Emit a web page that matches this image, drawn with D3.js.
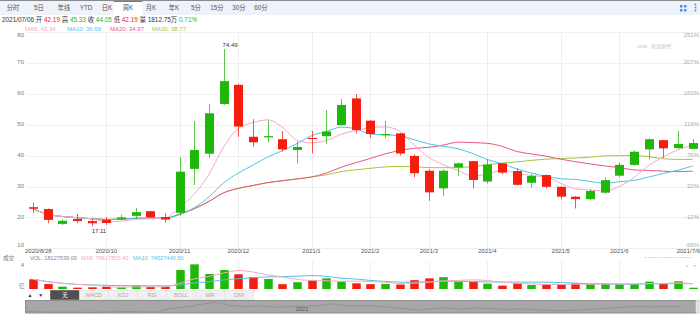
<!DOCTYPE html>
<html><head><meta charset="utf-8">
<script src="https://cdn.jsdelivr.net/npm/d3@7"></script>
<style>
body{margin:0;background:#fff}
svg{display:block}
text{font-family:"Liberation Sans","Noto Sans CJK SC",sans-serif}
</style>
</head><body>
<svg id="chart" width="700" height="322"></svg>
<script>
// Weekly K-line, 2020/8/28 – 2021/7/6
const opens  = [23.3,22.7,17.9,19.5,18.8,19.2,19.4,20.5,22.0,20.1,
                21.5,35.7,40.6,56.7,62.9,46.1,45.9,45.3,41.8,45.7,
                46.3,49.9,58.5,51.3,46.6,47.2,39.9,35.1,29.4,36.2,
                38.2,31.6,37.5,35.0,31.2,33.7,29.9,26.7,25.9,28.0,
                33.5,37.0,42.0,45.0,42.4,42.19];
const highs  = [24.8,22.9,19.4,21.1,19.6,20.1,20.9,23.0,22.1,21.3,
                39.4,51.2,56.7,74.49,63.2,51.8,51.3,48.0,44.5,48.0,
                54.8,58.3,59.9,51.4,51.2,47.3,40.4,35.6,35.5,37.7,
                38.3,38.9,37.6,35.9,34.0,33.9,30.0,26.9,29.1,33.0,
                37.8,41.7,45.6,45.1,48.0,45.33];
const lows   = [21.4,18.1,17.5,18.1,17.11,17.6,19.1,19.6,19.9,18.3,
                20.5,30.5,39.1,56.4,46.1,42.9,44.3,41.3,37.5,40.7,
                43.7,49.7,47.2,45.8,45.6,40.0,33.0,25.4,26.9,33.5,
                29.4,31.0,34.0,30.3,29.7,29.4,25.9,22.9,25.4,27.6,
                33.0,36.8,38.8,39.3,42.2,42.19];
const closes = [22.79,19.2,18.9,18.8,18.1,18.2,20.0,21.7,20.0,19.3,
                34.8,41.8,53.7,64.1,49.4,44.3,46.3,42.0,42.8,45.4,
                47.8,56.4,48.3,47.0,47.0,40.7,34.3,28.1,35.1,37.5,
                32.1,37.1,34.5,30.55,33.4,29.9,26.7,25.9,28.55,32.05,
                37.0,41.25,45.3,42.35,43.74,44.05];
const volumes = [139000000,71000000,33000000,19000000,24000000,33000000,24000000,43000000,29000000,29000000,
                 271000000,352000000,214000000,271000000,210000000,170000000,143000000,69000000,97000000,127000000,
                 152000000,107000000,81000000,69000000,73000000,64000000,126000000,152000000,169000000,100000000,
                 105000000,76000000,48000000,81000000,57000000,62000000,68000000,80000000,71000000,75000000,
                 68185128,71000000,105000000,79000000,109961738,18127539];

const tickIdx    = [0,5,10,14,19,23,27,31,36,40,45];
const tickLabels = ["2020/8/28","2020/10","2020/11","2020/12","2021/1","2021/2","2021/3","2021/4","2021/5","2021/6","2021/7/6"];
const priceTicks = [80,70,60,50,40,30,20,10];
const pctTicks   = ["251%","207%","163%","119%","76%","32%","-12%","-56%"];
const volTicks   = ["4","亿"];
const periodTabs = ["分时","5日","年线","YTD","日K","周K","月K","年K","5分","15分","30分","60分"];
const indicatorTabs = ["无","MACD","KDJ","RSI","BOLL","WR","DMI"];
const maPeriods  = [5,10,20,30];
const volMaPeriods = [5,10];
const lastDate   = "2021/07/06";

const UP = "#1fb80a", DOWN = "#f51d0d";
const maColors = {5:"#f7a8c0",10:"#4fc4e8",20:"#e9577f",30:"#a8c43e"};
const GRID = "#efefef";

// moving averages (shorter window while history is short)
const movingAvg = (arr, n) => arr.map((_, i) => d3.mean(arr.slice(Math.max(0, i - n + 1), i + 1)));

const svg = d3.select("#chart");
const N = closes.length;
const x = d3.scalePoint().domain(d3.range(N)).range([33, 692.7]);
const y = d3.scaleLinear().domain([10, 80]).range([248.3, 32]);
const yv = d3.scaleLinear().domain([0, 400000000]).range([289, 261]);
const isUp = i => closes[i] >= opens[i];

// ---- period toolbar ----
svg.append("rect").attr("x",0).attr("y",0).attr("width",700).attr("height",15).attr("fill","#edf2fb");
svg.append("rect").attr("x",0).attr("y",0).attr("width",700).attr("height",1).attr("fill","#8a8a8a");
const tabX = [13,39,64,86,107,128,151,174,196,217,239,261];
svg.append("rect").attr("x",113.5).attr("y",1).attr("width",29).attr("height",14).attr("fill","#fff");
svg.append("rect").attr("x",113.5).attr("y",1).attr("width",29).attr("height",1).attr("fill","#3d86e0");
svg.selectAll("text.tab").data(periodTabs).join("text").attr("class","tab")
  .attr("x",(d,i)=>tabX[i]).attr("y",8.5).attr("text-anchor","middle").attr("dominant-baseline","middle")
  .attr("font-size",6.3).attr("fill","#555").text(d=>d);
// right icons
const ic = svg.append("g").attr("fill","#4a8fe0");
ic.append("rect").attr("x",680).attr("y",5).attr("width",2.5).attr("height",2.5);
ic.append("rect").attr("x",684).attr("y",5).attr("width",2.5).attr("height",2.5);
ic.append("rect").attr("x",680).attr("y",9).attr("width",2.5).attr("height",2.5);
ic.append("rect").attr("x",684).attr("y",9).attr("width",2.5).attr("height",2.5);
[4.5,7.5,10.5].forEach(v=>ic.append("circle").attr("cx",695.5).attr("cy",v).attr("r",0.9));

// ---- info rows ----
const chg = (closes[N-1]/closes[N-2]-1)*100;
const info = svg.append("text").attr("x",2).attr("y",22).attr("font-size",6.4).attr("fill","#333");
const infoParts = [
  [lastDate+" ","#333"],["开 ","#333"],[opens[N-1].toFixed(2)+" ",DOWN],["高 ","#333"],[highs[N-1].toFixed(2)+" ",UP],
  ["收 ","#333"],[closes[N-1].toFixed(2)+" ",UP],["低 ","#333"],[lows[N-1].toFixed(2)+" ",DOWN],
  ["量 ","#333"],[(volumes[N-1]/10000).toFixed(2)+"万 ","#333"],[chg.toFixed(2)+"%",UP]];
infoParts.forEach(([t,c])=>info.append("tspan").attr("fill",c).text(t));

const mas = {};
maPeriods.forEach(p => mas[p] = movingAvg(closes, p));
const maLegX = [25,67,110,152];
maPeriods.forEach((p,k)=>svg.append("text").attr("x",maLegX[k]).attr("y",31).attr("font-size",6)
  .attr("fill",maColors[p]).text(`MA${p}: ${mas[p][N-1].toFixed(2)}`));

// ---- main grid ----
const grid = svg.append("g");
priceTicks.forEach(v=>grid.append("line").attr("x1",27).attr("x2",700)
  .attr("y1",Math.round(y(v))+0.5).attr("y2",Math.round(y(v))+0.5).attr("stroke",GRID));
tickIdx.slice(1,-1).forEach(i=>{
  const xx = Math.round(x(i))+0.5;
  grid.append("line").attr("x1",xx).attr("x2",xx).attr("y1",32).attr("y2",248).attr("stroke",GRID);
  grid.append("line").attr("x1",xx).attr("x2",xx).attr("y1",261).attr("y2",289).attr("stroke",GRID);
});
const clampY = v => Math.max(35, Math.min(245.5, y(v)));
svg.selectAll("text.py").data(priceTicks).join("text").attr("class","py")
  .attr("x",24).attr("y",d=>clampY(d)).attr("text-anchor","end").attr("dominant-baseline","middle")
  .attr("font-size",6).attr("fill","#777").text(d=>d);
svg.selectAll("text.pp").data(pctTicks).join("text").attr("class","pp")
  .attr("x",699).attr("y",(d,i)=>clampY(priceTicks[i])).attr("text-anchor","end").attr("dominant-baseline","middle")
  .attr("font-size",6).attr("fill","#aaa").text(d=>d);
svg.selectAll("text.xl").data(tickIdx).join("text").attr("class","xl")
  .attr("x",(d,k)=>k===0?25:(k===tickIdx.length-1?700:x(d)))
  .attr("text-anchor",(d,k)=>k===0?"start":(k===tickIdx.length-1?"end":"middle"))
  .attr("y",251.5).attr("dominant-baseline","middle").attr("font-size",6).attr("fill","#555")
  .text((d,k)=>tickLabels[k]);

// watermark
svg.append("text").attr("x",637).attr("y",48).attr("font-size",5.5).attr("font-style","italic")
  .attr("fill","#c8c8c8").text("sina");
svg.append("text").attr("x",651).attr("y",48).attr("font-size",5).attr("fill","#c8c8c8").text("新浪财经");

// ---- moving-average lines ----
const line = d3.line().x((d,i)=>x(i)).y(d=>y(d)).curve(d3.curveMonotoneX);
[30,20,10,5].forEach(p=>svg.append("path").attr("d",line(mas[p])).attr("fill","none")
  .attr("stroke",maColors[p]).attr("stroke-width",1));

// ---- candles ----
const bw = 9;
const cg = svg.append("g");
d3.range(N).forEach(i=>{
  const c = isUp(i)?UP:DOWN, cx = Math.round(x(i));
  cg.append("line").attr("x1",cx+0.5).attr("x2",cx+0.5).attr("y1",y(highs[i])).attr("y2",y(lows[i]))
    .attr("stroke",c).attr("stroke-width",1).attr("opacity",0.75);
  const top = y(Math.max(opens[i],closes[i])), bot = y(Math.min(opens[i],closes[i]));
  cg.append("rect").attr("x",cx+0.5-bw/2).attr("y",top).attr("width",bw).attr("height",Math.max(1,bot-top))
    .attr("fill",c);
});
// extreme labels
const iMax = d3.maxIndex(highs), iMin = d3.minIndex(lows);
svg.append("text").attr("x",x(iMax)-1).attr("y",y(highs[iMax])-2.5).attr("font-size",6).attr("fill","#333")
  .text(highs[iMax].toFixed(2));
svg.append("text").attr("x",x(iMin)).attr("y",y(lows[iMin])+3).attr("dominant-baseline","hanging")
  .attr("font-size",6).attr("fill","#333").text(lows[iMin].toFixed(2));

// ---- volume panel ----
const vmas = {};
volMaPeriods.forEach(p=>vmas[p]=movingAvg(volumes,p));
const vleg = svg.append("text").attr("x",3).attr("y",260).attr("font-size",5.6).attr("fill","#777");
vleg.append("tspan").text("成交");
vleg.append("tspan").attr("x",30).attr("fill","#888").text(`VOL: ${volumes[N-1].toFixed(2)}`);
vleg.append("tspan").attr("x",81).attr("fill",maColors[5]).text(`MA5: ${vmas[5][N-1].toFixed(2)}`);
vleg.append("tspan").attr("x",133).attr("fill",maColors[10]).text(`MA10: ${vmas[10][N-1].toFixed(2)}`);
svg.append("text").attr("x",24).attr("y",265).attr("text-anchor","end").attr("dominant-baseline","middle")
  .attr("font-size",6).attr("fill","#777").text(volTicks[0]);
svg.append("text").attr("x",24.5).attr("y",286.5).attr("text-anchor","end").attr("dominant-baseline","middle")
  .attr("font-size",5.5).attr("fill","#777").text(volTicks[1]);
// small scale widget at the panel's right corner
svg.append("line").attr("x1",645).attr("x2",693).attr("y1",257.5).attr("y2",257.5)
  .attr("stroke","#d0d0d0").attr("stroke-dasharray","2,1.2");
svg.append("text").attr("x",687).attr("y",267).attr("text-anchor","middle").attr("font-size",3.5).attr("fill","#bbb").text("▲");
svg.append("text").attr("x",695).attr("y",267).attr("text-anchor","middle").attr("font-size",3.5).attr("fill","#bbb").text("▼");
const vb = 8.5;
svg.append("g").selectAll("rect").data(volumes).join("rect")
  .attr("x",(d,i)=>Math.round(x(i))+0.5-vb/2).attr("y",d=>yv(d)).attr("width",vb)
  .attr("height",d=>Math.max(0.8,yv(0)-yv(d))).attr("fill",(d,i)=>isUp(i)?UP:DOWN);
const vline = d3.line().x((d,i)=>x(i)).y(d=>yv(d)).curve(d3.curveMonotoneX);
[10,5].forEach(p=>svg.append("path").attr("d",vline(vmas[p])).attr("fill","none")
  .attr("stroke",maColors[p]).attr("stroke-width",1));

// ---- indicator tabs ----
svg.append("text").attr("x",30).attr("y",295.5).attr("text-anchor","middle").attr("dominant-baseline","middle")
  .attr("font-size",5).attr("fill","#333").text("▲");
svg.append("text").attr("x",40.7).attr("y",295.5).attr("text-anchor","middle").attr("dominant-baseline","middle")
  .attr("font-size",5).attr("fill","#333").text("▼");
const tw = 29, t0 = 50.5;
indicatorTabs.forEach((t,k)=>{
  svg.append("rect").attr("x",t0+k*tw).attr("y",290.5).attr("width",tw).attr("height",9)
    .attr("fill",k===0?"#4f4f4f":"#f0f0f0").attr("stroke",k===0?"#4f4f4f":"#e2e2e2").attr("stroke-width",0.6);
  svg.append("text").attr("x",t0+k*tw+tw/2).attr("y",295.3).attr("text-anchor","middle").attr("dominant-baseline","middle")
    .attr("font-size",5.5).attr("fill",k===0?"#fff":"#aaa").text(t);
});

// ---- range navigator ----
svg.append("rect").attr("x",25.5).attr("y",300.5).attr("width",670).attr("height",12.5)
  .attr("fill","#a7a7a7").attr("stroke","#8d8d8d").attr("stroke-width",1);
const nx = d3.scaleLinear().domain([0,N-1]).range([26,680]);
const ny = d3.scaleLinear().domain([17,65]).range([312.5,302]);
svg.append("path").attr("d",d3.line().x((d,i)=>nx(i)).y(d=>ny(d))(closes))
  .attr("fill","none").attr("stroke","#8e8e8e").attr("stroke-width",0.8);
svg.append("rect").attr("x",695.5).attr("y",300.5).attr("width",3.5).attr("height",12.5)
  .attr("fill","#e6e6e6").attr("stroke","#b5b5b5").attr("stroke-width",0.6);
svg.append("text").attr("x",nx(19)).attr("y",309.5).attr("text-anchor","middle").attr("dominant-baseline","middle")
  .attr("font-size",5.5).attr("fill","#555").text("2021");
</script>
</body></html>
